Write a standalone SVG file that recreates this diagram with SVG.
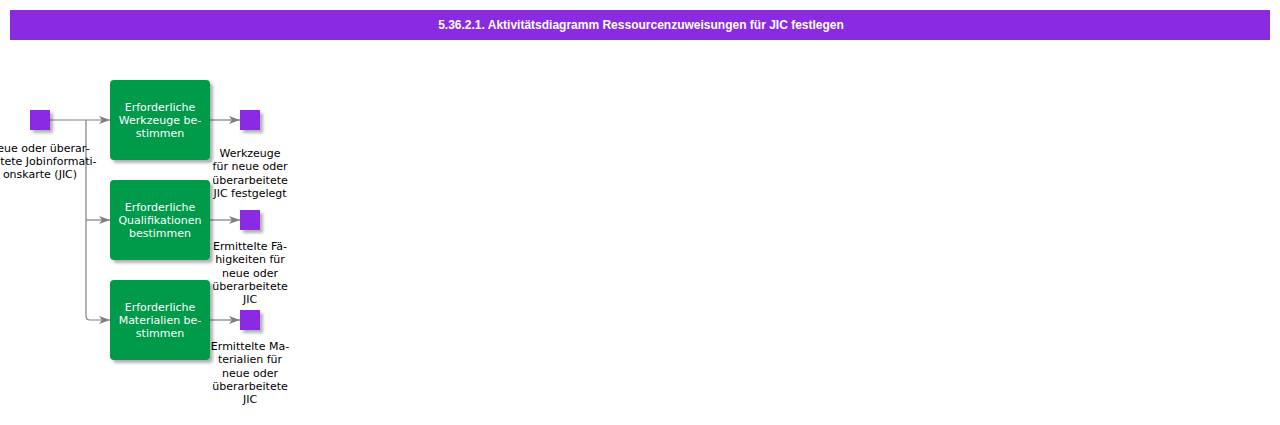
<svg xmlns="http://www.w3.org/2000/svg" width="1280" height="425" viewBox="0 0 1280 425">
<defs>
<filter id="sh" x="-20%" y="-20%" width="150%" height="150%">
<feDropShadow dx="3" dy="3" stdDeviation="1.5" flood-color="#000" flood-opacity="0.3"/>
</filter>
<marker id="ar" markerWidth="12" markerHeight="10" refX="11" refY="4" orient="auto" markerUnits="userSpaceOnUse">
<path d="M0,0 L11,4 L0,8 L3,4 z" fill="#808080"/>
</marker>
</defs>
<style>
.obj{fill:#8a2be2;filter:url(#sh)}
.act{fill:#009a4c;filter:url(#sh)}
.at{font-family:"DejaVu Sans",Verdana,sans-serif;font-size:11px;fill:#fff;text-anchor:middle}
.lb{font-family:"DejaVu Sans",Verdana,sans-serif;font-size:11px;fill:#000;text-anchor:middle}
.cn{fill:none;stroke:#808080;stroke-width:1.2}
</style>
<rect width="1280" height="425" fill="#fff"/>
<g id="header">
<rect x="10" y="10" width="1260" height="30" fill="#8a2be2"/>
<text x="641" y="29" font-family="'Liberation Sans',Arial,sans-serif" font-weight="bold" font-size="12" fill="#fff" text-anchor="middle">5.36.2.1. Aktivitätsdiagramm Ressourcenzuweisungen für JIC festlegen</text>
</g>
<g id="connectors">
<path class="cn" d="M50,120 H110" marker-end="url(#ar)"/>
<path class="cn" d="M86,120 V316 Q86,320 90,320 H110" marker-end="url(#ar)"/>
<path class="cn" d="M86,220 H110" marker-end="url(#ar)"/>
<path class="cn" d="M210,120 H240" marker-end="url(#ar)"/>
<path class="cn" d="M210,220 H240" marker-end="url(#ar)"/>
<path class="cn" d="M210,320 H240" marker-end="url(#ar)"/>
</g>
<g id="input">
<rect class="obj" x="30" y="110" width="20" height="20"/>
<text class="lb" x="40" y="152">neue oder überar-</text>
<text class="lb" x="40" y="165">beitete Jobinformati-</text>
<text class="lb" x="40" y="178">onskarte (JIC)</text>
</g>
<g id="act1">
<rect class="act" x="110" y="80" width="100" height="80" rx="4"/>
<text class="at" x="160" y="111">Erforderliche</text>
<text class="at" x="160" y="124">Werkzeuge be-</text>
<text class="at" x="160" y="137">stimmen</text>
</g>
<g id="act2">
<rect class="act" x="110" y="180" width="100" height="80" rx="4"/>
<text class="at" x="160" y="211">Erforderliche</text>
<text class="at" x="160" y="224">Qualifikationen</text>
<text class="at" x="160" y="237">bestimmen</text>
</g>
<g id="act3">
<rect class="act" x="110" y="280" width="100" height="80" rx="4"/>
<text class="at" x="160" y="311">Erforderliche</text>
<text class="at" x="160" y="324">Materialien be-</text>
<text class="at" x="160" y="337">stimmen</text>
</g>
<g id="out1">
<rect class="obj" x="240" y="110" width="20" height="20"/>
<text class="lb" x="250" y="157">Werkzeuge</text>
<text class="lb" x="250" y="170">für neue oder</text>
<text class="lb" x="250" y="184">überarbeitete</text>
<text class="lb" x="250" y="197">JIC festgelegt</text>
</g>
<g id="out2">
<rect class="obj" x="240" y="210" width="20" height="20"/>
<text class="lb" x="250" y="250">Ermittelte Fä-</text>
<text class="lb" x="250" y="263">higkeiten für</text>
<text class="lb" x="250" y="277">neue oder</text>
<text class="lb" x="250" y="290">überarbeitete</text>
<text class="lb" x="250" y="303">JIC</text>
</g>
<g id="out3">
<rect class="obj" x="240" y="310" width="20" height="20"/>
<text class="lb" x="250" y="350">Ermittelte Ma-</text>
<text class="lb" x="250" y="363">terialien für</text>
<text class="lb" x="250" y="377">neue oder</text>
<text class="lb" x="250" y="390">überarbeitete</text>
<text class="lb" x="250" y="403">JIC</text>
</g>
</svg>
